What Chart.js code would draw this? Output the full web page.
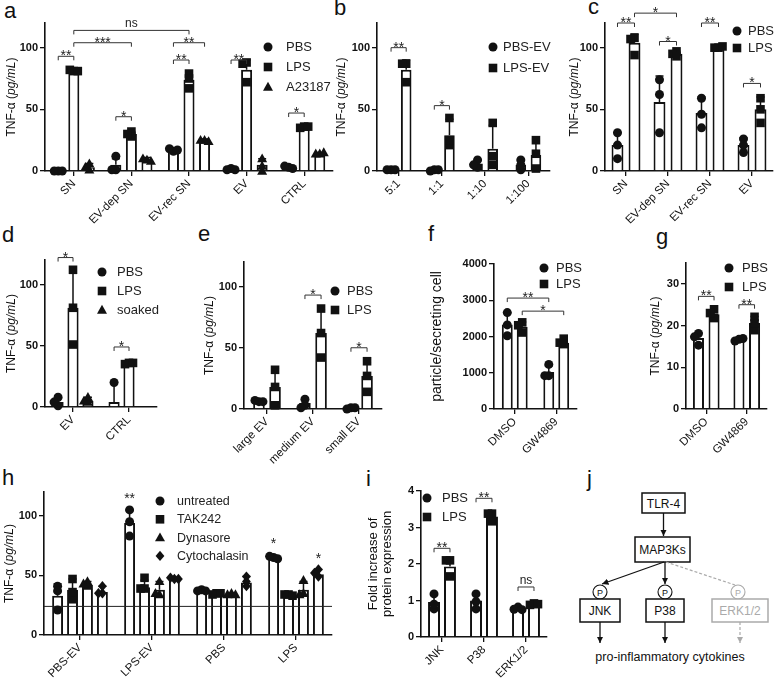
<!DOCTYPE html>
<html>
<head>
<meta charset="utf-8">
<script src="https://cdn.jsdelivr.net/npm/chart.js@4.4.0/dist/chart.umd.min.js"></script>
<style>
  body { margin: 0; background: #fff; }
  #fig { position: relative; width: 780px; height: 678px; overflow: hidden; font-family: 'Liberation Sans', Arial, sans-serif; }
  #fig canvas, #fig svg { position: absolute; }
  .lt { position: absolute; font-size: 22px; line-height: 1; color: #111; }
</style>
</head>
<body>
<div id="fig">
  <div class="lt" style="left:4px;top:0px">a</div>
  <div class="lt" style="left:334px;top:-3px">b</div>
  <div class="lt" style="left:588px;top:-4px">c</div>
  <div class="lt" style="left:2px;top:224px">d</div>
  <div class="lt" style="left:198px;top:223px">e</div>
  <div class="lt" style="left:428px;top:223px">f</div>
  <div class="lt" style="left:656px;top:226px">g</div>
  <div class="lt" style="left:2px;top:467px">h</div>
  <div class="lt" style="left:366px;top:468px">i</div>
  <div class="lt" style="left:587px;top:468px">j</div>

  <!-- j: schema de la ruta -->
  <svg width="220" height="213" style="left:560px;top:465px" viewBox="560 465 220 213" font-family="Liberation Sans, Arial, sans-serif">
    <defs>
      <marker id="ah" viewBox="0 0 6 6" refX="6" refY="3" markerWidth="5" markerHeight="5" orient="auto"><path d="M0,0L6,3L0,6z" fill="#111"/></marker>
      <marker id="ahg" viewBox="0 0 6 6" refX="6" refY="3" markerWidth="5" markerHeight="5" orient="auto"><path d="M0,0L6,3L0,6z" fill="#aaa"/></marker>
    </defs>
    <rect x="642" y="493" width="43" height="20" fill="#fff" stroke="#111" stroke-width="1.5"/>
    <text x="663.5" y="507.5" text-anchor="middle" font-size="12" fill="#111">TLR-4</text>
    <line x1="663.5" y1="513" x2="663.5" y2="536" stroke="#111" stroke-width="1.3" marker-end="url(#ah)"/>
    <rect x="635" y="537" width="55" height="25" fill="#fff" stroke="#111" stroke-width="1.5"/>
    <text x="662.5" y="554" text-anchor="middle" font-size="12" fill="#111">MAP3Ks</text>
    <line x1="664" y1="562" x2="602" y2="584" stroke="#111" stroke-width="1.3" marker-end="url(#ah)"/>
    <line x1="665" y1="562" x2="665" y2="584" stroke="#111" stroke-width="1.3" marker-end="url(#ah)"/>
    <line x1="666" y1="562" x2="735" y2="585" stroke="#aaa" stroke-width="1.2" stroke-dasharray="3,2"/>
    <circle cx="600" cy="592" r="7" fill="#fff" stroke="#111" stroke-width="1.1"/>
    <text x="600" y="595.5" text-anchor="middle" font-size="9" fill="#111">P</text>
    <circle cx="665" cy="592" r="7" fill="#fff" stroke="#111" stroke-width="1.1"/>
    <text x="665" y="595.5" text-anchor="middle" font-size="9" fill="#111">P</text>
    <circle cx="738" cy="592" r="7" fill="#fff" stroke="#aaa" stroke-width="1.1"/>
    <text x="738" y="595.5" text-anchor="middle" font-size="9" fill="#aaa">P</text>
    <rect x="580" y="599" width="40" height="23" fill="#fff" stroke="#111" stroke-width="1.5"/>
    <text x="600" y="615" text-anchor="middle" font-size="12" fill="#111">JNK</text>
    <rect x="646" y="599" width="38" height="23" fill="#fff" stroke="#111" stroke-width="1.5"/>
    <text x="665" y="615" text-anchor="middle" font-size="12" fill="#111">P38</text>
    <rect x="712" y="599" width="56" height="23" fill="#fff" stroke="#aaa" stroke-width="1.5"/>
    <text x="740" y="615" text-anchor="middle" font-size="12" fill="#aaa">ERK1/2</text>
    <line x1="600" y1="622" x2="600" y2="643" stroke="#111" stroke-width="1.3" marker-end="url(#ah)"/>
    <line x1="665" y1="622" x2="665" y2="643" stroke="#111" stroke-width="1.3" marker-end="url(#ah)"/>
    <line x1="740" y1="622" x2="740" y2="643" stroke="#aaa" stroke-width="1.2" stroke-dasharray="3,2" marker-end="url(#ahg)"/>
    <text x="670" y="661" text-anchor="middle" font-size="12.5" fill="#111">pro-inflammatory cytokines</text>
  </svg>
</div>

<script>
// ---- datos ----
// a
const aCats = ['SN', 'EV-dep SN', 'EV-rec SN', 'EV', 'CTRL'];
const aPBS = [0, 5, 17, 1, 3];
const aPBSErr = [0, 10, 18, 2, 4];
const aPBSPts = [[0, 0, 0], [1, 12, 1], [16, 18, 17], [2, 1, 1], [3, 4, 2]];
const aLPS = [81, 30, 74, 82, 36];
const aLPSErr = [82, 32, 80, 90, 37];
const aLPSPts = [[81, 82, 81], [32, 28, 30], [79, 67, 75], [88, 72, 87], [36, 35, 36]];
const aA23 = [3, 9, 25, 5, 14];
const aA23Err = [6, 11, 26, 10, 15];
const aA23Pts = [[1, 3, 6], [9, 10, 8], [25, 25, 24], [10, 0, 4], [14, 14, 15]];

// b
const bCats = ['5:1', '1:1', '1:10', '1:100'];
const bPBS = [1, 1, 6, 5];
const bPBSErr = [1, 1, 9, 9];
const bPBSPts = [[1, 1, 1], [1, 0, 1], [3, 9, 5], [1, 9, 5]];
const bLPS = [82, 29, 18, 13];
const bLPSErr = [90, 42, 37, 26];
const bLPSPts = [[87, 72, 87], [21, 43, 25], [5, 12, 39], [2, 14, 25]];

// c
const cCats = ['SN', 'EV-dep SN', 'EV-rec SN', 'EV'];
const cPBS = [21, 56, 47, 21];
const cPBSErr = [31, 77, 60, 27];
const cPBSPts = [[21, 31, 10], [74, 62, 31], [59, 46, 35], [15, 26, 21]];
const cLPS = [104, 95, 100, 50];
const cLPSErr = [111, 97, 101, 60];
const cLPSPts = [[108, 94, 107], [97, 95, 93], [100, 100, 101], [59, 50, 39]];

// d
const dCats = ['EV', 'CTRL'];
const dPBS = [4, 4];
const dPBSErr = [7, 20];
const dPBSPts = [[8, 1, 4], [20]];
const dLPS = [81, 35];
const dLPSErr = [112, 36];
const dLPSPts = [[112, 81, 51], [36, 35, 36]];
const dSoak = [5, null];
const dSoakErr = [8, null];
const dSoakPts = [[8, 4, 5], []];

// e
const eCats = ['large EV', 'medium EV', 'small EV'];
const ePBS = [6, 5, 1];
const ePBSErr = [7, 8, 1];
const ePBSPts = [[6, 7, 6], [8, 3, 1], [1, 0, 1]];
const eLPS = [18, 62, 27];
const eLPSErr = [33, 81, 38];
const eLPSPts = [[3, 18, 32], [42, 62, 82], [14, 27, 39]];

// f
const fCats = ['DMSO', 'GW4869'];
const fPBS = [2330, 1020];
const fPBSErr = [2650, 1190];
const fPBSPts = [[2020, 2660, 2320], [920, 1230, 920]];
const fLPS = [2270, 1830];
const fLPSErr = [2400, 1900];
const fLPSPts = [[2110, 2390, 2310], [1940, 1830, 1790]];

// g
const gCats = ['DMSO', 'GW4869'];
const gPBS = [17, 16.7];
const gPBSErr = [18.3, 17];
const gPBSPts = [[15.3, 18.1, 17.3], [16.7, 16.3, 16.9]];
const gLPS = [22.7, 20.6];
const gLPSErr = [23.9, 22.2];
const gLPSPts = [[21.8, 23.9, 23], [18.9, 22.1, 20.5]];

// h
const hCats = ['PBS-EV', 'LPS-EV', 'PBS', 'LPS'];
const hUnt = [33, 94, 37, 64];
const hUntErr = [43, 105, 38, 66];
const hUntPts = [[41, 21, 37], [105, 95, 83], [38, 37, 37], [65, 66, 64]];
const hTak = [38, 40, 35, 34];
const hTakErr = [47, 46, 36, 35];
const hTakPts = [[30, 47, 36], [48, 39, 39], [35, 34, 35], [34, 34, 33]];
const hDyn = [42, 38, 34, 38];
const hDynErr = [45, 45, 35, 45];
const hDynPts = [[45, 41, 43], [34, 45, 35], [35, 34, 34], [46, 35, 34]];
const hCyt = [36, 47, 44, 51];
const hCytErr = [41, 48, 49, 55];
const hCytPts = [[35, 41, 35], [47, 48, 47], [41, 49, 45], [55, 52, 49]];
const hRef = 24;

// i
const iCats = ['JNK', 'P38', 'ERK1/2'];
const iPBS = [0.96, 1.0, 0.78];
const iPBSErr = [1.15, 1.2, 0.82];
const iPBSPts = [[0.77, 1.18, 0.9], [1.18, 0.77, 0.97], [0.82, 0.76, 0.75]];
const iLPS = [1.93, 3.3, 0.9];
const iLPSErr = [2.15, 3.42, 0.94];
const iLPSPts = [[2.1, 1.66, 2.1], [3.38, 3.17, 3.38], [0.92, 0.88, 0.9]];

// ---- estilo comun ----
const FONT = "'Liberation Sans', Arial, sans-serif";
const INK = '#111';
const TNF = [['TNF-\u03b1 (', false], ['pg/mL', true], [')', false]];

function S(label, marker, vals, err, pts) {
    return { label, marker, vals, err, pts };
}

function drawMarker(ctx, kind, x, y) {
    ctx.beginPath();
    if (kind === 'circle') {
        ctx.arc(x, y, 4.5, 0, Math.PI * 2);
    } else if (kind === 'square') {
        ctx.rect(x - 4.3, y - 4.3, 8.6, 8.6);
    } else if (kind === 'triangle') {
        ctx.moveTo(x, y - 5.2); ctx.lineTo(x + 5, y + 3.7); ctx.lineTo(x - 5, y + 3.7); ctx.closePath();
    } else {
        ctx.moveTo(x, y - 5.2); ctx.lineTo(x + 4.4, y); ctx.lineTo(x, y + 5.2); ctx.lineTo(x - 4.4, y); ctx.closePath();
    }
    ctx.fill();
}

// plugin por panel: barras de error, puntos, corchetes, leyenda y titulo Y
function extras(p) {
    const ox = p.box[0], oy = p.box[1];
    return {
        id: 'extras',
        afterDatasetsDraw(chart) {
            const ctx = chart.ctx, ys = chart.scales.y, area = chart.chartArea;
            ctx.save();
            if (p.ref != null) {
                const py = ys.getPixelForValue(p.ref);
                ctx.strokeStyle = '#222'; ctx.lineWidth = 1;
                ctx.beginPath(); ctx.moveTo(area.left, py); ctx.lineTo(area.right, py); ctx.stroke();
            }
            p.series.forEach((s, di) => {
                chart.getDatasetMeta(di).data.forEach((bar, ci) => {
                    const v = s.vals[ci];
                    if (v == null) return;
                    const e = s.err[ci];
                    if (e != null && e > v) {
                        const y0 = ys.getPixelForValue(v), y1 = ys.getPixelForValue(e);
                        ctx.strokeStyle = INK; ctx.lineWidth = 1.5;
                        ctx.beginPath();
                        ctx.moveTo(bar.x, y0); ctx.lineTo(bar.x, y1);
                        ctx.moveTo(bar.x - 4, y1); ctx.lineTo(bar.x + 4, y1);
                        ctx.stroke();
                    }
                    // los puntos que se tapan se abren a los lados
                    const placed = [];
                    ctx.fillStyle = INK;
                    (s.pts[ci] || []).forEach(pv => {
                        const py = ys.getPixelForValue(pv);
                        let dx = 0;
                        for (const o of [0, -4, 4, -8, 8]) {
                            if (!placed.some(q => Math.abs(q[0] - o) < 4 && Math.abs(q[1] - py) < 4)) { dx = o; break; }
                        }
                        placed.push([dx, py]);
                        drawMarker(ctx, s.marker, bar.x + dx, py);
                    });
                });
            });
            ctx.restore();
        },
        afterDraw(chart) {
            const ctx = chart.ctx, ys = chart.scales.y, area = chart.chartArea;
            const xOf = (di, ci) => chart.getDatasetMeta(di).data[ci].x;
            ctx.save();
            const sigText = (t, x, py) => {
                ctx.fillStyle = '#222';
                ctx.textAlign = 'center';
                ctx.textBaseline = 'alphabetic';
                if (t === 'ns') { ctx.font = '12px ' + FONT; ctx.fillText(t, x, py - 3); }
                else { ctx.font = '14px ' + FONT; ctx.fillText(t, x, py + 4); }
            };
            (p.brackets || []).forEach(([d1, c1, d2, c2, val, t]) => {
                const x1 = xOf(d1, c1), x2 = xOf(d2, c2), py = ys.getPixelForValue(val);
                ctx.strokeStyle = '#333'; ctx.lineWidth = 1;
                ctx.beginPath();
                ctx.moveTo(x1, py + 4); ctx.lineTo(x1, py); ctx.lineTo(x2, py); ctx.lineTo(x2, py + 4);
                ctx.stroke();
                sigText(t, (x1 + x2) / 2, py);
            });
            (p.stars || []).forEach(([d, c, val, t]) => sigText(t, xOf(d, c), ys.getPixelForValue(val)));

            // leyenda
            const lg = p.legend;
            ctx.font = (lg.size || 13) + 'px ' + FONT;
            ctx.textAlign = 'left';
            ctx.textBaseline = 'middle';
            p.series.forEach((s, k) => {
                const y = lg.y + k * lg.dy - oy;
                ctx.fillStyle = INK;
                drawMarker(ctx, s.marker, lg.mx - ox, y);
                ctx.fillStyle = '#222';
                ctx.fillText(s.label, lg.tx - ox, y + 0.5);
            });

            // titulo del eje Y (con cursiva)
            const cy = (area.top + area.bottom) / 2;
            const fs = p.titleSize || 12;
            p.title.forEach(line => {
                ctx.save();
                ctx.translate(line.x - ox, cy);
                ctx.rotate(-Math.PI / 2);
                ctx.fillStyle = '#111';
                ctx.textBaseline = 'middle';
                ctx.textAlign = 'left';
                const fontOf = it => (it ? 'italic ' : '') + fs + 'px ' + FONT;
                let total = 0;
                line.segs.forEach(([t, it]) => { ctx.font = fontOf(it); total += ctx.measureText(t).width; });
                let x = -total / 2;
                line.segs.forEach(([t, it]) => { ctx.font = fontOf(it); ctx.fillText(t, x, 0); x += ctx.measureText(t).width; });
                ctx.restore();
            });
            ctx.restore();
        }
    };
}

function makePanel(p) {
    const [bx, by, bw, bh] = p.box;
    const [l, t, r, b] = p.area;
    const cv = document.createElement('canvas');
    cv.width = bw; cv.height = bh;
    cv.style.left = bx + 'px'; cv.style.top = by + 'px';
    document.getElementById('fig').appendChild(cv);
    const zeroPad = s => { s.paddingLeft = 0; s.paddingRight = 0; s.paddingTop = 0; s.paddingBottom = 0; };
    const grid = { display: true, offset: false, drawOnChartArea: false, drawTicks: true, tickLength: 5, color: INK, lineWidth: 1.3 };
    const border = { display: true, color: INK, width: 1.6 };

    new Chart(cv, {
        type: 'bar',
        data: {
            labels: p.cats,
            datasets: p.series.map(s => ({
                label: s.label,
                data: s.vals,
                backgroundColor: '#fff',
                borderColor: INK,
                borderWidth: 2,
                borderSkipped: 'start',
                categoryPercentage: p.cp,
                barPercentage: p.bp
            }))
        },
        options: {
            responsive: false,
            animation: false,
            events: [],
            layout: { padding: { top: t - by, right: bx + bw - r, left: 0, bottom: 0 } },
            plugins: { legend: { display: false }, tooltip: { enabled: false } },
            scales: {
                x: {
                    z: 1,
                    grid: grid,
                    border: border,
                    ticks: { font: { family: FONT, size: 11.5 }, color: INK, minRotation: 45, maxRotation: 45, padding: 1, autoSkip: false },
                    afterFit: s => { s.height = by + bh - b; zeroPad(s); }
                },
                y: {
                    z: 1,
                    min: p.min, max: p.max,
                    grid: grid,
                    border: border,
                    ticks: { stepSize: p.step, includeBounds: false, font: { family: FONT, size: 11, weight: 'bold' }, color: INK, padding: 2,
                             callback: v => String(v) },
                    afterFit: s => { s.width = l - bx; zeroPad(s); }
                }
            }
        },
        plugins: [extras(p)]
    });
}

const panels = [
    {
        box: [0, 0, 345, 240], area: [45, 23, 333, 171], cats: aCats, min: 0, max: 120, step: 50, cp: 0.81, bp: 0.71,
        series: [S('PBS', 'circle', aPBS, aPBSErr, aPBSPts), S('LPS', 'square', aLPS, aLPSErr, aLPSPts), S('A23187', 'triangle', aA23, aA23Err, aA23Pts)],
        title: [{ x: 12, segs: TNF }], legend: { mx: 268, tx: 286, y: 47, dy: 20 },
        brackets: [[0, 0, 1, 0, 93, '**'], [1, 0, 1, 1, 104, '***'], [1, 0, 1, 2, 114, 'ns'], [0, 2, 1, 2, 90, '**'],
                   [0, 2, 2, 2, 104, '**'], [0, 3, 1, 3, 90, '**'], [0, 4, 1, 4, 47, '*'], [0, 1, 1, 1, 44, '*']]
    },
    {
        box: [335, 0, 225, 240], area: [377, 23, 550, 171], cats: bCats, min: 0, max: 120, step: 50, cp: 0.7, bp: 0.7,
        series: [S('PBS-EV', 'circle', bPBS, bPBSErr, bPBSPts), S('LPS-EV', 'square', bLPS, bLPSErr, bLPSPts)],
        title: [{ x: 342, segs: TNF }], legend: { mx: 493, tx: 503, y: 47, dy: 21 },
        brackets: [[0, 0, 1, 0, 100, '**'], [0, 1, 1, 1, 53, '*']]
    },
    {
        box: [560, 0, 220, 240], area: [605, 23, 773, 171], cats: cCats, min: 0, max: 120, step: 50, cp: 0.81, bp: 0.7,
        series: [S('PBS', 'circle', cPBS, cPBSErr, cPBSPts), S('LPS', 'square', cLPS, cLPSErr, cLPSPts)],
        title: [{ x: 575, segs: TNF }], legend: { mx: 737, tx: 748, y: 31, dy: 17 },
        brackets: [[0, 0, 1, 0, 120, '**'], [1, 0, 1, 1, 128, '*'], [0, 1, 1, 1, 105, '*'], [0, 2, 1, 2, 120, '**'], [0, 3, 1, 3, 71, '*']]
    },
    {
        box: [0, 225, 190, 250], area: [45, 260, 157, 407], cats: dCats, min: 0, max: 120, step: 50, cp: 0.8, bp: 0.75,
        series: [S('PBS', 'circle', dPBS, dPBSErr, dPBSPts), S('LPS', 'square', dLPS, dLPSErr, dLPSPts), S('soaked', 'triangle', dSoak, dSoakErr, dSoakPts)],
        title: [{ x: 12, segs: TNF }], legend: { mx: 102, tx: 117, y: 272, dy: 19 },
        brackets: [[0, 0, 1, 0, 122, '*'], [0, 1, 1, 1, 49, '*']]
    },
    {
        box: [190, 225, 200, 250], area: [244, 262, 382, 409], cats: eCats, min: 0, max: 120, step: 50, cp: 0.7, bp: 0.72,
        series: [S('PBS', 'circle', ePBS, ePBSErr, ePBSPts), S('LPS', 'square', eLPS, eLPSErr, eLPSPts)],
        title: [{ x: 210, segs: TNF }], legend: { mx: 335, tx: 347, y: 291, dy: 19 },
        brackets: [[0, 1, 1, 1, 93, '*'], [0, 2, 1, 2, 50, '*']]
    },
    {
        box: [420, 225, 170, 250], area: [494, 264, 577, 409], cats: fCats, min: 0, max: 4000, step: 1000, cp: 0.72, bp: 0.73,
        series: [S('PBS', 'circle', fPBS, fPBSErr, fPBSPts), S('LPS', 'square', fLPS, fLPSErr, fLPSPts)],
        title: [{ x: 437, segs: [['particle/secreting cell', false]] }], titleSize: 14, legend: { mx: 544, tx: 556, y: 268, dy: 16 },
        brackets: [[0, 0, 0, 1, 3060, '**'], [1, 0, 1, 1, 2700, '*']]
    },
    {
        box: [600, 225, 180, 250], area: [686, 263, 767, 409], cats: gCats, min: 0, max: 35, step: 10, cp: 0.77, bp: 0.71,
        series: [S('PBS', 'circle', gPBS, gPBSErr, gPBSPts), S('LPS', 'square', gLPS, gLPSErr, gLPSPts)],
        title: [{ x: 656, segs: TNF }], legend: { mx: 729, tx: 742, y: 268, dy: 19 },
        brackets: [[0, 0, 1, 0, 27, '**'], [0, 1, 1, 1, 25, '**']]
    },
    {
        box: [0, 465, 345, 213], area: [44, 492, 332, 635], cats: hCats, min: 0, max: 120, step: 50, cp: 0.83, bp: 0.73,
        series: [S('untreated', 'circle', hUnt, hUntErr, hUntPts), S('TAK242', 'square', hTak, hTakErr, hTakPts),
                 S('Dynasore', 'triangle', hDyn, hDynErr, hDynPts), S('Cytochalasin', 'diamond', hCyt, hCytErr, hCytPts)],
        title: [{ x: 10, segs: TNF }], legend: { mx: 160, tx: 177, y: 501, dy: 18.3, size: 12.5 },
        stars: [[0, 1, 114, '**'], [0, 3, 76, '*'], [3, 3, 64, '*']], ref: hRef
    },
    {
        box: [350, 465, 210, 213], area: [421, 491, 547, 637], cats: iCats, min: 0, max: 4, step: 1, cp: 0.76, bp: 0.75,
        series: [S('PBS', 'circle', iPBS, iPBSErr, iPBSPts), S('LPS', 'square', iLPS, iLPSErr, iLPSPts)],
        title: [{ x: 373, segs: [['Fold increase of', false]] }, { x: 387, segs: [['protein expression', false]] }], titleSize: 13,
        legend: { mx: 427, tx: 442, y: 498, dy: 19 },
        brackets: [[0, 0, 1, 0, 2.43, '**'], [0, 1, 1, 1, 3.8, '**'], [0, 2, 1, 2, 1.37, 'ns']]
    }
];

panels.forEach(makePanel);
</script>
</body>
</html>
